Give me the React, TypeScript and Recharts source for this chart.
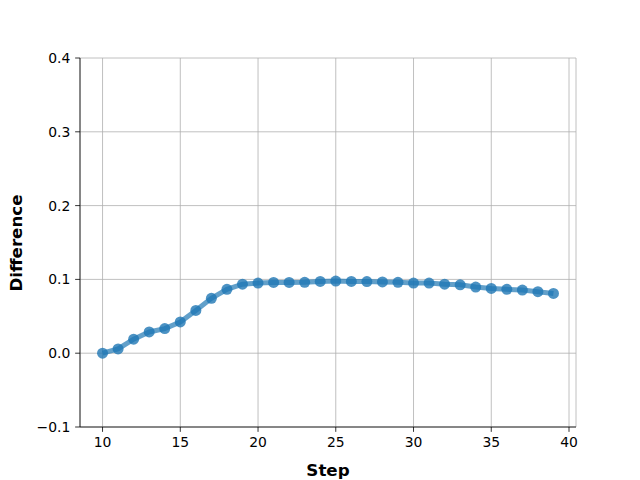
import {
  CartesianGrid,
  Label,
  Line,
  LineChart,
  XAxis,
  YAxis,
} from "recharts";

const steps = [
  10, 11, 12, 13, 14, 15, 16, 17, 18, 19, 20, 21, 22, 23, 24, 25, 26, 27, 28, 29,
  30, 31, 32, 33, 34, 35, 36, 37, 38, 39,
];
const differences = [
  0.0, 0.0058, 0.019, 0.0288, 0.0333, 0.0423, 0.058, 0.0743, 0.0865, 0.0935,
  0.095, 0.0959, 0.0959, 0.096, 0.0973, 0.0977, 0.0973, 0.097, 0.0965, 0.096,
  0.095, 0.095, 0.0935, 0.0926, 0.0896, 0.0878, 0.0865, 0.0856, 0.0833, 0.081,
];
const xTicks = [10, 15, 20, 25, 30, 35, 40];
const yTicks = [-0.1, 0.0, 0.1, 0.2, 0.3, 0.4];

const data = steps.map((step, i) => ({ step, difference: differences[i] }));

const font = "DejaVu Sans";
const tickStyle = { fill: "#000", fontSize: 13.9, fontFamily: font };
const pad = 4.86;

// matplotlib writes negatives with a real minus sign
const fmtY = (v: number) => v.toFixed(1).replace("-", "\u2212");

export default function App() {
  return (
    <div style={{ position: "absolute", left: 0, top: 0, width: 640, height: 480, background: "#fff" }}>
      <LineChart
        width={640}
        height={480}
        data={data}
        margin={{ top: 58, right: 64, bottom: 0, left: 0 }}
      >
        <CartesianGrid stroke="#b0b0b0" strokeWidth={0.8} />
        <XAxis
          dataKey="step"
          type="number"
          domain={[8.55, 40.45]}
          ticks={xTicks}
          height={53}
          tickSize={pad}
          tickMargin={pad}
          stroke="#000"
          axisLine={{ stroke: "#000", strokeWidth: 0.8 }}
          tickLine={{ stroke: "#000", strokeWidth: 0.8 }}
          tick={tickStyle}
        >
          <Label
            content={() => (
              <text
                x={328}
                y={476}
                textAnchor="middle"
                fontFamily={font}
                fontSize={16.7}
                fontWeight="bold"
                fill="#000"
              >
                Step
              </text>
            )}
          />
        </XAxis>
        <XAxis
          xAxisId="top"
          orientation="top"
          dataKey="step"
          type="number"
          domain={[8.55, 40.45]}
          height={0}
          tick={false}
          tickLine={false}
          axisLine={{ stroke: "#000", strokeWidth: 0.8 }}
        />
        <YAxis
          type="number"
          domain={[-0.1, 0.4]}
          ticks={yTicks}
          width={80}
          tickSize={pad}
          tickMargin={pad}
          axisLine={{ stroke: "#000", strokeWidth: 0.8 }}
          tickLine={{ stroke: "#000", strokeWidth: 0.8 }}
          tick={tickStyle}
          tickFormatter={fmtY}
        >
          <Label
            content={() => (
              <text
                x={0}
                y={0}
                transform="translate(22 243) rotate(-90)"
                textAnchor="middle"
                fontFamily={font}
                fontSize={16.7}
                fontWeight="bold"
                fill="#000"
              >
                Difference
              </text>
            )}
          />
        </YAxis>
        <YAxis
          yAxisId="right"
          orientation="right"
          type="number"
          domain={[-0.1, 0.4]}
          width={0}
          tick={false}
          tickLine={false}
          axisLine={{ stroke: "#000", strokeWidth: 0.8 }}
        />
        <Line
          type="linear"
          dataKey="difference"
          stroke="#1f77b4"
          strokeOpacity={0.7}
          strokeWidth={5}
          dot={{ r: 5.5, fill: "#1f77b4", fillOpacity: 0.8, stroke: "none" }}
          activeDot={false}
          isAnimationActive={false}
        />
      </LineChart>
    </div>
  );
}
